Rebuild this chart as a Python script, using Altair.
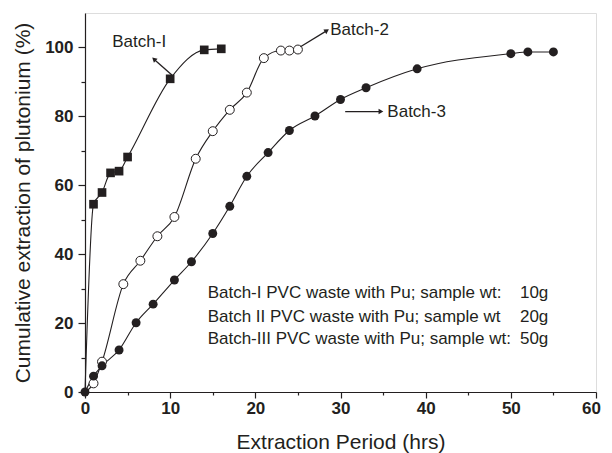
import altair as alt
import pandas as pd

# ---- data ----
b1_x = [0, 1, 2, 3, 4, 5, 10, 14, 16]
b1_y = [0, 54.5, 57.9, 63.6, 64.1, 68.2, 90.9, 99.3, 99.6]

b2_x = [0, 1, 2, 4.5, 6.5, 8.5, 10.5, 13, 15, 17, 19, 21, 23, 24, 25]
b2_y = [0, 2.5, 8.8, 31.3, 38.1, 45.2, 50.8, 67.7, 75.7, 81.9, 86.9, 96.9, 99.1, 99.1, 99.4]

b3_x = [0, 1, 2, 4, 6, 8, 10.5, 12.5, 15, 17, 19, 21.5, 24, 27, 30, 33, 39, 50, 52, 55]
b3_y = [0, 4.6, 7.6, 12.2, 20.1, 25.5, 32.5, 37.8, 46.0, 53.9, 62.6, 69.5, 75.9, 80.1,
        84.9, 88.3, 93.8, 98.2, 98.7, 98.7]

label_text = ["Batch-I", "Batch-2", "Batch-3"]
label_x = [3.2, 28.8, 35.5]
label_y = [101.6, 105.1, 81.4]

arrow_x = [10.2, 25.3, 30.55]
arrow_y = [92.0, 100.2, 81.4]
arrow_x2 = [8.1, 28.4, 34.75]
arrow_y2 = [96.6, 104.9, 81.4]
arrow_angle = [312, 58, 90]

note_left = ["Batch-I PVC waste with Pu; sample wt:",
             "Batch II PVC waste with Pu; sample wt",
             "Batch-III PVC waste with Pu; sample wt:"]
note_right = ["10g", "20g", "50g"]
note_y = [28.65, 21.9, 15.3]
note_x = 14.4
note_x_end = 54.4

FONT = "Liberation Sans"
INK = "#231f20"

d1 = pd.DataFrame({"x": b1_x, "y": b1_y})
d2 = pd.DataFrame({"x": b2_x, "y": b2_y})
d3 = pd.DataFrame({"x": b3_x, "y": b3_y})

xscale = alt.Scale(domain=[0, 60], nice=False, zero=False)
yscale = alt.Scale(domain=[0, 110], nice=False, zero=False)

xaxis = alt.Axis(
    title="Extraction Period (hrs)",
    values=list(range(0, 61, 5)),
    labelExpr="datum.value % 10 === 0 ? datum.label : ''",
    tickSize={"condition": {"test": "datum.value % 10 === 0", "value": 6}, "value": 3},
    labelOffset={"condition": {"test": "datum.value === 60", "value": -5}, "value": 0},
    labelFont=FONT, labelFontSize=17, labelFontWeight="bold", labelColor=INK,
    labelPadding=2, titleFont=FONT, titleFontSize=21, titleFontWeight="normal",
    titleColor=INK, titlePadding=15, grid=False, domainColor=INK, tickColor=INK,
    domainWidth=1.2, tickWidth=1.2, labelFlush=False,
)
yaxis = alt.Axis(
    title="Cumulative extraction of plutonium (%)",
    values=list(range(0, 101, 10)),
    labelExpr="datum.value % 20 === 0 ? datum.label : ''",
    tickSize={"condition": {"test": "datum.value % 20 === 0", "value": 7}, "value": 4},
    labelFont=FONT, labelFontSize=17, labelFontWeight="bold", labelColor=INK,
    labelPadding=5, titleFont=FONT, titleFontSize=21, titleFontWeight="normal",
    titleColor=INK, titlePadding=11, grid=False, domainColor=INK, tickColor=INK,
    domainWidth=1.2, tickWidth=1.2, labelFlush=False,
)

X = alt.X("x:Q", scale=xscale, axis=xaxis)
Y = alt.Y("y:Q", scale=yscale, axis=yaxis)


def line(df):
    return alt.Chart(df).mark_line(color=INK, strokeWidth=1.1, interpolate="monotone").encode(
        x=X, y=Y)


l1 = line(d1)
l2 = line(d2)
l3 = line(d3)

p1 = alt.Chart(d1[d1.x > 0]).mark_point(shape="square", filled=True, color=INK, size=75, opacity=1).encode(x=X, y=Y)
p2 = alt.Chart(d2[d2.x > 0]).mark_point(shape="circle", filled=True, fill="white", stroke=INK,
                                        strokeWidth=1, size=80, opacity=1).encode(x=X, y=Y)
p3 = alt.Chart(d3).mark_point(shape="circle", filled=True, color=INK, size=80, opacity=1).encode(x=X, y=Y)

lab = pd.DataFrame({"t": label_text, "x": label_x, "y": label_y})
labels = alt.Chart(lab).mark_text(align="left", baseline="middle", font=FONT, fontSize=17,
                                  color=INK).encode(x=X, y=Y, text="t:N")

arr = pd.DataFrame({"x": arrow_x, "y": arrow_y, "x2": arrow_x2, "y2": arrow_y2, "a": arrow_angle})
shafts = alt.Chart(arr).mark_rule(color=INK, strokeWidth=1.3).encode(x=X, y=Y, x2="x2:Q", y2="y2:Q")
heads = alt.Chart(arr).mark_point(shape="triangle-up", filled=True, color=INK, size=30, opacity=1).encode(
    x=alt.X("x2:Q", scale=xscale, axis=xaxis), y=alt.Y("y2:Q", scale=yscale, axis=yaxis),
    angle=alt.Angle("a:Q", scale=None))

notes = pd.DataFrame({"l": note_left, "r": note_right, "y": note_y,
                      "x": [note_x] * 3, "xe": [note_x_end] * 3})
notes_l = alt.Chart(notes).mark_text(align="left", baseline="middle", font=FONT, fontSize=17,
                                     color=INK).encode(x=X, y=Y, text="l:N")
notes_r = alt.Chart(notes).mark_text(align="right", baseline="middle", font=FONT, fontSize=17,
                                     color=INK).encode(x=alt.X("xe:Q", scale=xscale, axis=xaxis), y=Y, text="r:N")

chart = alt.layer(l1, l2, l3, p1, p2, p3, shafts, heads, labels, notes_l, notes_r).properties(
    width=511, height=379,
    padding={"left": 77, "top": 5, "right": 8, "bottom": 61},
    autosize=alt.AutoSizeParams(type="none"),
).configure_view(stroke=INK, strokeWidth=1.2).configure(background="white")

chart.save("out.html", embed_options={"renderer": "svg", "actions": False})
